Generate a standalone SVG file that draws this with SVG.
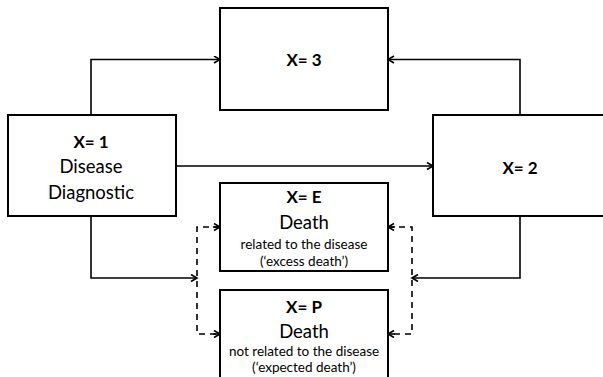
<svg xmlns="http://www.w3.org/2000/svg" width="603" height="377" viewBox="0 0 603 377">
<style>
.box{fill:#fff;stroke:#000;stroke-width:2}
.ln{fill:none;stroke:#000;stroke-width:1.6}
.ds{fill:none;stroke:#000;stroke-width:1.6;stroke-dasharray:6 5}
text{font-family:Lato,"Open Sans",sans-serif;text-anchor:middle;fill:#000}
.b{font-weight:bold;font-size:17px}
.m{font-size:18.5px}
.s{font-size:13.5px}
</style>
<defs>
<marker id="ah" markerWidth="10" markerHeight="10" refX="7" refY="4" orient="auto" markerUnits="userSpaceOnUse">
<path d="M1,0.5 L7,4 L1,7.5" fill="none" stroke="#000" stroke-width="1.6"/>
</marker>
</defs>
<rect width="603" height="377" fill="#fff"/>
<g id="connectors">
<path class="ln" d="M91,115 V59.5 H220" marker-end="url(#ah)"/>
<path class="ln" d="M520,115 V59.5 H388" marker-end="url(#ah)"/>
<path class="ln" d="M176,166 H433" marker-end="url(#ah)"/>
<path class="ln" d="M91,216 V278 H197" marker-end="url(#ah)"/>
<path class="ln" d="M520,216 V278 H412" marker-end="url(#ah)"/>
<path class="ds" d="M220,227 H197 V334 H220" />
<path class="ln" d="M213,227 H220" marker-end="url(#ah)"/>
<path class="ln" d="M213,334 H220" marker-end="url(#ah)"/>
<path class="ds" d="M388,227 H412 V334 H388" />
<path class="ln" d="M395,227 H388" marker-end="url(#ah)"/>
<path class="ln" d="M395,334 H388" marker-end="url(#ah)"/>
</g>
<g id="n3">
<rect class="box" x="220" y="8" width="168" height="102"/>
<text class="b" x="304" y="66">X= 3</text>
</g>
<g id="n1">
<rect class="box" x="8" y="115" width="168" height="101"/>
<text class="b" x="91" y="147.5">X= 1</text>
<text class="m" x="91" y="173">Disease</text>
<text class="m" x="91" y="199">Diagnostic</text>
</g>
<g id="n2">
<rect class="box" x="433" y="115" width="180" height="101"/>
<text class="b" x="520" y="173.5">X= 2</text>
</g>
<g id="nE">
<rect class="box" x="220" y="183" width="168" height="88"/>
<text class="b" x="304" y="203">X= E</text>
<text class="m" x="304" y="229">Death</text>
<text class="s" x="304" y="248.5">related to the disease</text>
<text class="s" x="304" y="266">(‘excess death’)</text>
</g>
<g id="nP">
<rect class="box" x="220" y="290" width="168" height="100"/>
<text class="b" x="304" y="312.5">X= P</text>
<text class="m" x="304" y="338">Death</text>
<text class="s" x="304" y="356">not related to the disease</text>
<text class="s" x="304" y="372">(‘expected death’)</text>
</g>
</svg>
